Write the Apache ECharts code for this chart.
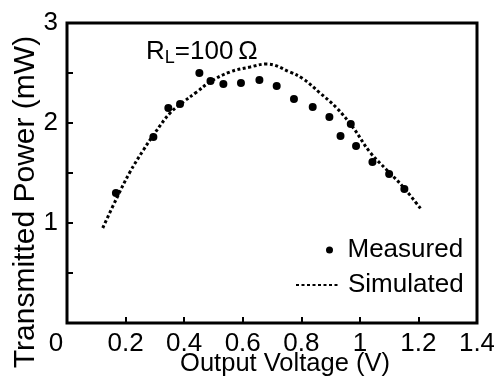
<!DOCTYPE html>
<html>
<head>
<meta charset="utf-8">
<script src="https://cdn.jsdelivr.net/npm/echarts@6/dist/echarts.min.js"></script>
<style>html,body{margin:0;padding:0;background:#fff;}#c{width:494px;height:382px;}</style>
</head>
<body>
<div id="c"></div>
<script>
const measuredV = [0.167, 0.295, 0.346, 0.386, 0.452, 0.490, 0.534, 0.594, 0.657, 0.716, 0.775, 0.839, 0.896, 0.934, 0.969, 0.987, 1.043, 1.100, 1.152];
const measuredP = [1.30, 1.86, 2.15, 2.19, 2.50, 2.42, 2.39, 2.40, 2.43, 2.37, 2.24, 2.16, 2.06, 1.87, 1.99, 1.77, 1.61, 1.49, 1.34];
const simV = [0.122, 0.170, 0.215, 0.261, 0.300, 0.352, 0.397, 0.443, 0.488, 0.556, 0.625, 0.682, 0.761, 0.807, 0.864, 0.921, 0.978, 1.034, 1.092, 1.148, 1.211];
const simP = [0.95, 1.25, 1.51, 1.73, 1.90, 2.10, 2.21, 2.31, 2.41, 2.51, 2.56, 2.59, 2.51, 2.44, 2.30, 2.15, 1.95, 1.71, 1.53, 1.36, 1.13];
const xTicks = [0, 0.2, 0.4, 0.6, 0.8, 1, 1.2, 1.4];
const yTicks = [0, 1, 2, 3];

const FONT = "'Liberation Sans', Arial, sans-serif";
const chart = echarts.init(document.getElementById('c'), null, {renderer: 'canvas'});
const zip = (a, b) => a.map((v, i) => [v, b[i]]);

chart.setOption({
  animation: false,
  backgroundColor: '#fff',
  grid: {left: 67, right: 17, top: 23, bottom: 59, containLabel: false, outerBoundsMode: 'none',
         show: true, borderColor: '#000', borderWidth: 3, backgroundColor: 'transparent'},
  title: {
    text: '{r|R}{s|L}{r|=100}{o|Ω}',
    left: 146, top: 38, padding: 0,
    textStyle: {
      fontWeight: 'normal',
      rich: {
        r: {fontFamily: FONT, fontSize: 26, fontWeight: 'normal', color: '#000', lineHeight: 28},
        s: {fontFamily: FONT, fontSize: 18, fontWeight: 'normal', color: '#000', padding: [12, 0, 0, 0], lineHeight: 28},
        o: {fontFamily: FONT, fontSize: 26, fontWeight: 'normal', color: '#000', padding: [0, 0, 0, 5], lineHeight: 28}
      }
    }
  },
  xAxis: {
    type: 'value', min: 0, max: 1.4, interval: 0.2,
    name: 'Output Voltage (V)', nameLocation: 'middle', nameGap: 28, nameMoveOverlap: false,
    nameTextStyle: {fontFamily: FONT, fontSize: 25.5, color: '#000', padding: [0, 0, 0, 26]},
    axisLine: {show: false},
    axisTick: {show: true, inside: true, length: 6, lineStyle: {color: '#000', width: 2}},
    splitLine: {show: false},
    axisLabel: {
      fontFamily: FONT, fontSize: 26, color: '#000', margin: 8, showMinLabel: true, showMaxLabel: true,
      formatter: v => xTicks.some(t => Math.abs(t - v) < 1e-6) ? (Math.abs(v) < 1e-9 ? '{o|0}' : String(+v.toFixed(1))) : '',
      rich: {o: {fontFamily: FONT, fontSize: 26, color: '#000', padding: [0, 22, 0, 0]}}
    }
  },
  yAxis: {
    type: 'value', min: 0, max: 3, interval: 0.5,
    name: 'Transmitted Power (mW)', nameLocation: 'middle', nameGap: 26, nameMoveOverlap: false,
    nameTextStyle: {fontFamily: FONT, fontSize: 30, color: '#000', padding: [0, 58, 0, 0]},
    axisLine: {show: false},
    axisTick: {show: true, inside: true, length: 6, lineStyle: {color: '#000', width: 2}},
    splitLine: {show: false},
    axisLabel: {
      fontFamily: FONT, fontSize: 26, color: '#000', margin: 9,
      formatter: v => (yTicks.some(t => Math.abs(t - v) < 1e-6) && v !== 0) ? String(v) : ''
    }
  },
  legend: [
    {
      data: ['Measured'], left: 326, top: 237, padding: 0, itemWidth: 26, itemHeight: 7, itemGap: 0,
      textStyle: {fontFamily: FONT, fontSize: 26, color: '#000'}
    },
    {
      data: ['Simulated'], left: 295, top: 272, padding: 0, itemWidth: 42, itemHeight: 7, itemGap: 0,
      itemStyle: {opacity: 0},
      textStyle: {fontFamily: FONT, fontSize: 26, color: '#000', padding: [0, 0, 0, 5]}
    }
  ],
  series: [
    {
      name: 'Simulated', type: 'line', data: zip(simV, simP), smooth: 0.4, showSymbol: false, symbol: 'none',
      lineStyle: {color: '#000', width: 3, type: [3, 2.5]}, itemStyle: {color: '#000'}, z: 2
    },
    {
      name: 'Measured', type: 'scatter', data: zip(measuredV, measuredP), symbol: 'circle', symbolSize: 8,
      itemStyle: {color: '#000', opacity: 1}, z: 3
    }
  ]
});
</script>
</body>
</html>
